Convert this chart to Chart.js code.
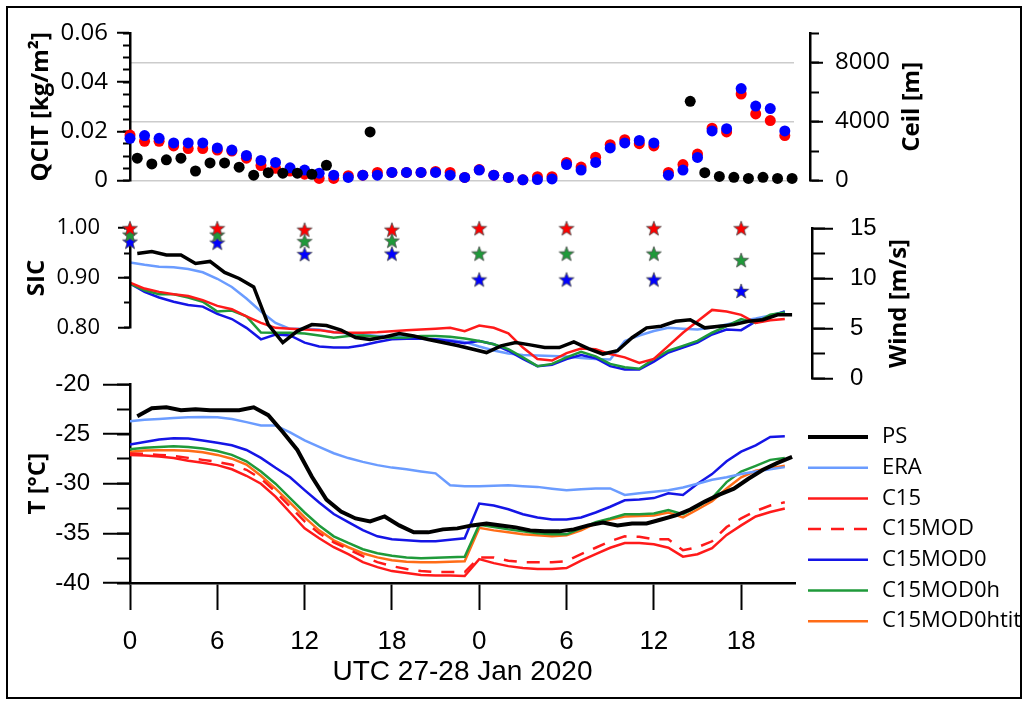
<!DOCTYPE html>
<html>
<head>
<meta charset="utf-8">
<script src="https://cdn.jsdelivr.net/npm/chart.js@4/dist/chart.umd.min.js"></script>
<style>
  body { margin: 0; background: #fff; }
  #frame { position: absolute; left: 6px; top: 6px; width: 1016px; height: 693px; box-sizing: border-box; border: 2.5px solid #000; }
  canvas { position: absolute; left: 0; }
</style>
</head>
<body>
<div id="frame"></div>
<canvas id="cQcit" width="1030" height="207" style="top:0px"></canvas>
<canvas id="cWind" width="1030" height="213" style="top:197px"></canvas>
<canvas id="cSic" width="1030" height="162" style="top:197px"></canvas>
<canvas id="cTemp" width="1030" height="344" style="top:357px"></canvas>
<script>
// hours after 27 Jan 00 UTC
const modelHours = [0, 1, 2, 3, 4, 5, 6, 7, 8, 9, 10, 11, 12, 13, 14, 15, 16, 17, 18, 19, 20, 21, 22, 23,
  24, 25, 26, 27, 28, 29, 30, 31, 32, 33, 34, 35, 36, 37, 38, 39, 40, 41, 42, 43, 44, 45];
const obsHours = [0.5, 1.5, 2.5, 3.5, 4.5, 5.5, 6.5, 7.5, 8.5, 9.5, 10.5, 11.5, 12.5, 13.5, 14.5, 15.5, 16.5, 17.5,
  18.5, 19.5, 20.5, 21.5, 22.5, 23.5, 24.5, 25.5, 26.5, 27.5, 28.5, 29.5, 30.5, 31.5, 32.5, 33.5, 34.5, 35.5,
  36.5, 37.5, 38.5, 39.5, 40.5, 41.5, 42.5, 43.5, 44.5, 45.5];
const sicHours = [0, 6, 12, 18, 24, 30, 36, 42];

// tick labels
const xTicks = [0, 6, 12, 18, 24, 30, 36, 42];
const qcitTicks = [0, 0.02, 0.04, 0.06];
const ceilTicks = [0, 4000, 8000];
const sicTicks = [0.8, 0.9, 1.0];
const windTicks = [0, 5, 10, 15];
const tTicks = [-40, -35, -30, -25, -20];

// top panel
const psCeil = [1520, 1130, 1410, 1520, 650, 1200, 1200, 910, 370, 540, 500, 500, 430, 1040, null, null, 3300,
  null, null, null, null, null, null, null, null, null, null, null, null, null, null, null, null, null, null, null, null, null,
  5370, 540, 280, 220, 150, 220, 150, 150];
const qcitC15 = [0.0185, 0.0160, 0.0160, 0.0141, 0.0130, 0.0130, 0.0124, 0.0120, 0.0091, 0.0061, 0.0050, 0.0039,
  0.0026, 0.0009, 0.0009, 0.0020, 0.0022, 0.0033, 0.0033, 0.0033, 0.0033, 0.0037, 0.0033, 0.0013, 0.0045, 0.0022,
  0.0013, 0.0003, 0.0016, 0.0016, 0.0074, 0.0055, 0.0095, 0.0146, 0.0166, 0.0150, 0.0141, 0.0033, 0.0065, 0.0108,
  0.0213, 0.0198, 0.0352, 0.0271, 0.0244, 0.0183];
const qcitC15MOD0 = [0.0172, 0.0183, 0.0172, 0.0153, 0.0153, 0.0153, 0.0133, 0.0124, 0.0102, 0.0082, 0.0074, 0.0052,
  0.0043, 0.0030, 0.0022, 0.0013, 0.0022, 0.0022, 0.0033, 0.0033, 0.0033, 0.0033, 0.0022, 0.0013, 0.0043, 0.0022,
  0.0013, 0.0003, 0.0004, 0.0007, 0.0065, 0.0043, 0.0074, 0.0133, 0.0153, 0.0163, 0.0153, 0.0022, 0.0043, 0.0094,
  0.0202, 0.0211, 0.0374, 0.0303, 0.0293, 0.0202];

// middle panel
const sicC15 = [1.00, 1.00, 0.997, 0.997, 1.00, 1.00, 1.00, 1.00];
const sicC15MOD0h = [0.987, 0.987, 0.974, 0.975, 0.949, 0.949, 0.949, 0.936];
const sicC15MOD0 = [0.973, 0.971, 0.948, 0.949, 0.897, 0.897, 0.897, 0.874];
const windPS = [12.5, 12.7, 12.35, 12.35, 11.5, 11.7, 10.6, 10.0, 9.15, 5.4, 3.6, 4.75, 5.4, 5.3, 4.85, 4.1, 3.9,
  4.15, 4.5, 4.25, 3.9, 3.6, 3.3, 2.95, 2.6, 3.27, 3.6, 3.37, 3.1, 3.1, 3.66, 3.0, 2.45, 2.78, 4.08, 5.07, 5.23,
  5.72, 5.88, 5.07, 5.23, 5.39, 5.72, 5.88, 6.37, 6.37];
const windERA = [11.6, 11.37, 11.18, 11.11, 10.95, 10.62, 9.97, 9.15, 8.0, 6.7, 5.56, 4.97, 4.97, 4.9, 4.64, 4.51,
  4.41, 4.25, 4.25, 4.18, 3.99, 3.92, 3.86, 3.66, 3.2, 2.8, 2.5, 2.35, 2.3, 2.25, 2.2, 2.05, 1.95, 1.9, 3.76, 4.3,
  4.75, 5.07, 4.97, 4.9, 5.1, 5.4, 5.75, 6.0, 6.3, 6.7];
const windC15 = [9.58, 8.99, 8.66, 8.43, 8.24, 7.84, 7.26, 6.93, 6.21, 5.56, 5.07, 4.97, 4.9, 4.84, 4.64, 4.58,
  4.58, 4.64, 4.74, 4.84, 4.9, 4.97, 5.07, 4.74, 5.29, 5.07, 4.51, 3.1, 1.96, 1.8, 2.55, 3.0, 2.94, 2.45, 2.12,
  1.57, 1.96, 3.27, 4.58, 5.72, 6.86, 6.7, 6.37, 5.56, 5.82, 5.95];
const windC15MOD0 = [9.48, 8.66, 8.1, 7.68, 7.35, 7.19, 6.47, 5.95, 5.07, 3.92, 4.41, 4.31, 3.59, 3.2, 3.1, 3.1,
  3.33, 3.66, 3.92, 3.99, 3.99, 3.92, 3.76, 3.53, 3.76, 3.43, 2.78, 1.96, 1.24, 1.37, 1.96, 2.35, 2.03, 1.24, 0.92,
  0.92, 1.7, 2.61, 3.1, 3.59, 4.41, 4.9, 4.84, 5.72, 6.2, 6.7];
const windC15MOD0h = [9.48, 8.82, 8.43, 8.43, 8.1, 7.68, 6.7, 6.8, 6.21, 4.6, 4.58, 4.58, 4.51, 4.31, 4.08, 4.25,
  4.31, 4.18, 4.08, 4.1, 4.25, 4.25, 4.18, 4.0, 3.76, 3.43, 2.94, 2.12, 1.24, 1.47, 2.12, 2.68, 2.22, 1.47, 1.14,
  0.98, 1.96, 2.78, 3.27, 3.76, 4.58, 5.23, 5.95, 5.56, 6.37, 6.6];

// bottom panel
const tPS = [-23.2, -22.4, -22.3, -22.6, -22.5, -22.6, -22.6, -22.6, -22.3, -23.1, -24.8, -26.6, -29.3, -31.6,
  -32.8, -33.5, -33.8, -33.3, -34.2, -34.9, -34.9, -34.6, -34.5, -34.2, -34.0, -34.2, -34.4, -34.7, -34.8, -34.8,
  -34.6, -34.2, -33.9, -34.2, -34.0, -34.0, -33.6, -33.2, -32.6, -31.8, -31.1, -30.5, -29.5, -28.6, -27.9, -27.3];
const tERA = [-23.7, -23.55, -23.48, -23.39, -23.32, -23.29, -23.32, -23.48, -23.8, -24.13, -24.13, -24.84, -25.64,
  -26.3, -26.93, -27.42, -27.8, -28.13, -28.38, -28.55, -28.77, -28.96, -30.16, -30.26, -30.26, -30.2, -30.16,
  -30.25, -30.32, -30.5, -30.65, -30.55, -30.48, -30.48, -31.13, -30.97, -30.8, -30.65, -30.39, -30.0, -29.6,
  -29.35, -29.03, -28.77, -28.55, -28.33];
const tC15 = [-27.1, -27.15, -27.26, -27.42, -27.68, -27.9, -28.13, -28.55, -29.2, -30.0, -31.3, -32.9, -34.5,
  -35.5, -36.4, -37.1, -37.9, -38.4, -38.8, -39.0, -39.2, -39.25, -39.25, -39.3, -37.6, -38.0, -38.3, -38.5, -38.6,
  -38.6, -38.5, -37.75, -37.1, -36.45, -35.97, -35.97, -36.1, -36.45, -37.35, -37.1, -36.5, -35.16, -34.2, -33.3,
  -32.85, -32.5];
const tC15MOD = [-26.95, -27.0, -27.1, -27.2, -27.4, -27.6, -27.8, -28.1, -28.6, -29.5, -30.8, -32.3, -33.8, -35.0,
  -35.9, -36.6, -37.3, -37.9, -38.3, -38.6, -38.8, -38.9, -38.9, -38.9, -37.42, -37.42, -37.75, -37.9, -37.9, -37.9,
  -37.8, -37.1, -36.45, -35.8, -35.3, -35.35, -35.6, -35.6, -36.7, -36.4, -35.8, -34.36, -33.5, -32.75, -32.2, -31.87];
const tC15MOD0 = [-26.06, -25.8, -25.55, -25.42, -25.45, -25.64, -25.87, -26.13, -26.6, -27.4, -28.4, -29.35,
  -30.65, -31.9, -33.05, -33.87, -34.68, -35.3, -35.6, -35.7, -35.8, -35.8, -35.65, -35.5, -32.0, -32.2, -32.58,
  -33.07, -33.4, -33.6, -33.6, -33.4, -32.9, -32.32, -31.67, -31.6, -31.45, -30.97, -31.13, -30.0, -29.03, -27.74,
  -26.78, -26.13, -25.3, -25.23];
const tC15MOD0h = [-26.52, -26.39, -26.3, -26.23, -26.3, -26.45, -26.7, -27.1, -27.74, -28.77, -30.0, -31.45,
  -32.9, -34.2, -35.3, -35.97, -36.6, -37.0, -37.26, -37.42, -37.5, -37.45, -37.4, -37.35, -34.13, -34.36, -34.6,
  -34.8, -35.0, -35.1, -35.1, -34.5, -33.87, -33.5, -33.07, -33.07, -33.0, -32.65, -33.07, -32.32, -31.45, -29.84,
  -28.77, -28.2, -27.6, -27.42];
const tC15MOD0htit = [-26.78, -26.65, -26.62, -26.62, -26.68, -26.84, -27.1, -27.48, -28.07, -29.2, -30.5, -31.9,
  -33.4, -34.7, -35.7, -36.4, -37.0, -37.42, -37.7, -37.85, -37.9, -37.9, -37.85, -37.8, -34.45, -34.7, -34.9,
  -35.1, -35.2, -35.3, -35.2, -34.7, -34.0, -33.6, -33.3, -33.25, -33.2, -32.9, -33.4, -32.6, -31.77, -30.48,
  -29.35, -28.7, -28.45, -28.2];

Chart.defaults.font.family = "'Liberation Sans', Arial, sans-serif";
Chart.defaults.color = "#000";
Chart.defaults.animation = false;
Chart.defaults.plugins.legend.display = false;
Chart.defaults.plugins.tooltip.enabled = false;

const calibri = "'Open Sans', sans-serif";
const titleFont = { family: calibri, size: 24, weight: "bold" };

function pts(xs, ys) {
  return xs.map((x, i) => ({ x: x, y: ys[i] }));
}

function xHidden() {
  return { type: "linear", min: 0, max: 45.7, display: false };
}

// labelled axis: long ticks, border, optional grid
function majorAxis(o) {
  return {
    position: o.pos, min: o.min, max: o.max, weight: o.weight,
    afterFit: (s) => { s.width = o.width; },
    afterBuildTicks: (s) => { s.ticks = o.ticksAt.map((v) => ({ value: v })); },
    border: { display: true, color: "#000", width: 2.5 },
    grid: { drawOnChartArea: !!o.grid, color: o.grid || "transparent", lineWidth: 1.5,
            tickLength: o.len, tickColor: "#000", tickWidth: 2 },
    ticks: { padding: o.pad, font: o.font, callback: o.fmt },
    title: o.title
      ? { display: true, text: o.title, font: titleFont, padding: { top: o.titlePad, bottom: 0 } }
      : { display: false },
  };
}

// zero width twin axis that only adds the short minor ticks
function minorAxis(pos, min, max, step, len, weight) {
  return {
    position: pos, min: min, max: max, weight: weight,
    afterFit: (s) => { s.width = 0; },
    border: { display: false },
    grid: { drawOnChartArea: false, tickLength: len, tickColor: "#000", tickWidth: 2 },
    ticks: { display: false, stepSize: step },
  };
}

// empty spacer between plot and the right axes
function gapAxis(w) {
  return {
    position: "right", weight: 0,
    afterFit: (s) => { s.width = w; },
    border: { display: false }, grid: { display: false }, ticks: { display: false },
  };
}

// right hand titles read bottom to top like the left ones
const rightTitle = {
  id: "rightTitle",
  afterDraw(chart, args, opts) {
    const s = chart.scales[opts.scale];
    const c = chart.ctx;
    c.save();
    c.translate(s.left + opts.dx, (s.top + s.bottom) / 2);
    c.rotate(-Math.PI / 2);
    c.font = "bold 24px 'Open Sans'";
    c.textAlign = "center";
    c.textBaseline = "middle";
    c.fillStyle = "#000";
    c.fillText(opts.text, 0, 0);
    c.restore();
  },
};

const lineLegend = {
  id: "lineLegend",
  afterDraw(chart, args, opts) {
    const c = chart.ctx;
    chart.data.datasets.forEach((d, i) => {
      const y = opts.y + i * opts.row;
      c.save();
      c.strokeStyle = d.borderColor;
      c.lineWidth = d.borderWidth;
      c.setLineDash(d.borderDash || []);
      c.beginPath();
      c.moveTo(opts.x, y);
      c.lineTo(opts.x + opts.len, y);
      c.stroke();
      c.setLineDash([]);
      c.fillStyle = "#000";
      c.font = "22px 'Open Sans'";
      c.textBaseline = "middle";
      c.fillText(d.label, opts.x + opts.len + opts.gap, y);
      c.restore();
    });
  },
};

function makeStar(fill) {
  const cv = document.createElement("canvas");
  cv.width = 18;
  cv.height = 18;
  const c = cv.getContext("2d");
  c.beginPath();
  for (let i = 0; i < 10; i++) {
    const r = i % 2 ? 3.2 : 7.8;
    const a = -Math.PI / 2 + (i * Math.PI) / 5;
    c.lineTo(9 + r * Math.cos(a), 9.7 + r * Math.sin(a));
  }
  c.closePath();
  c.fillStyle = fill;
  c.fill();
  c.strokeStyle = "#4a4a4a";
  c.lineWidth = 0.8;
  c.stroke();
  return cv;
}

const dot = (color) => ({ backgroundColor: color, borderWidth: 0, pointRadius: 5.5, clip: false });

// ---- QCIT / ceilometer
new Chart(document.getElementById("cQcit"), {
  type: "scatter",
  data: {
    datasets: [
      { label: "PS", data: pts(obsHours, psCeil), yAxisID: "yCeil", ...dot("#000") },
      { label: "C15MOD0", data: pts(modelHours, qcitC15MOD0), yAxisID: "y", ...dot("#0000ff") },
      { label: "C15", data: pts(modelHours, qcitC15), yAxisID: "y", ...dot("#ff0000") },
    ],
  },
  options: {
    responsive: false,
    layout: { padding: { top: 33, bottom: 20, left: 0, right: 0 } },
    scales: {
      x: xHidden(),
      y: majorAxis({ pos: "left", min: 0, max: 0.06, ticksAt: qcitTicks, width: 130, weight: 1, len: 13, pad: 9,
        font: { family: calibri, size: 24 }, fmt: (v) => (v === 0 ? "0" : v.toFixed(2)),
        title: "QCIT [kg/m²]", titlePad: 27 }),
      yMinor: minorAxis("left", 0, 0.06, 0.005, 7, 0),
      yGap: gapAxis(15),
      yCeilMinor: minorAxis("right", 0, 10000, 2000, 9, 1),
      yCeil: majorAxis({ pos: "right", min: 0, max: 10000, ticksAt: ceilTicks, width: 220, weight: 2, len: 13, pad: 12,
        font: { family: calibri, size: 24 }, fmt: (v) => String(v), grid: "#cccccc" }),
    },
    plugins: { rightTitle: { scale: "yCeil", text: "Ceil [m]", dx: 102 } },
  },
  plugins: [rightTitle],
});

// ---- wind lines
const wline = (label, xs, ys, color, width) => ({
  label: label, data: pts(xs, ys), borderColor: color, borderWidth: width,
  pointRadius: 0, fill: false, tension: 0, yAxisID: "yWind",
});
new Chart(document.getElementById("cWind"), {
  type: "line",
  data: {
    datasets: [
      wline("PS", obsHours, windPS, "#000", 3.5),
      wline("C15", modelHours, windC15, "#ff1a1a", 2.5),
      wline("C15MOD0h", modelHours, windC15MOD0h, "#1f9a3a", 2.5),
      wline("C15MOD0", modelHours, windC15MOD0, "#1515e6", 2.5),
      wline("ERA", modelHours, windERA, "#6b9cff", 2.5),
    ],
  },
  options: {
    responsive: false,
    layout: { padding: { top: 30, bottom: 30, left: 130, right: 0 } },
    scales: {
      x: xHidden(),
      yGap: gapAxis(17),
      yWindMinor: minorAxis("right", 0, 15, 2.5, 13, 1),
      yWind: majorAxis({ pos: "right", min: 0, max: 15, ticksAt: windTicks, width: 218, weight: 2, len: 21, pad: 17,
        font: { size: 24 }, fmt: (v) => String(v) }),
    },
    plugins: { rightTitle: { scale: "yWind", text: "Wind [m/s]", dx: 87 } },
  },
  plugins: [rightTitle],
});

// ---- sea ice concentration stars
const star = (label, ys, color) => ({
  label: label, data: pts(sicHours, ys), pointStyle: makeStar(color), clip: false, yAxisID: "y",
});
new Chart(document.getElementById("cSic"), {
  type: "scatter",
  data: {
    datasets: [
      star("C15", sicC15, "#ff0000"),
      star("C15MOD0h", sicC15MOD0h, "#1f9a3a"),
      star("C15MOD0", sicC15MOD0, "#0000ff"),
    ],
  },
  options: {
    responsive: false,
    layout: { padding: { top: 30, bottom: 30, left: 0, right: 235 } },
    scales: {
      x: xHidden(),
      y: majorAxis({ pos: "left", min: 0.8, max: 1.0, ticksAt: sicTicks, width: 130, weight: 1, len: 12, pad: 18,
        font: { family: calibri, size: 22 }, fmt: (v) => v.toFixed(2), title: "SIC", titlePad: 23 }),
      yMinor: minorAxis("left", 0.8, 1.0, 0.05, 6, 0),
    },
  },
});

// ---- temperature
const tline = (label, xs, ys, color, width, dash) => ({
  label: label, data: pts(xs, ys), borderColor: color, borderWidth: width, borderDash: dash,
  pointRadius: 0, fill: false, tension: 0, yAxisID: "y",
});
new Chart(document.getElementById("cTemp"), {
  type: "line",
  data: {
    datasets: [
      tline("PS", obsHours, tPS, "#000", 4),
      tline("ERA", modelHours, tERA, "#6b9cff", 2.5),
      tline("C15", modelHours, tC15, "#ff1a1a", 2.5),
      tline("C15MOD", modelHours, tC15MOD, "#ff1a1a", 2.5, [13, 10]),
      tline("C15MOD0", modelHours, tC15MOD0, "#1515e6", 2.5),
      tline("C15MOD0h", modelHours, tC15MOD0h, "#1f9a3a", 2.5),
      tline("C15MOD0htit", modelHours, tC15MOD0htit, "#ff6c17", 2.5),
    ],
  },
  options: {
    responsive: false,
    layout: { padding: { top: 20, bottom: 0, left: 0, right: 235 } },
    scales: {
      x: {
        type: "linear", min: 0, max: 45.7, position: "bottom",
        afterFit: (s) => { s.height = 118; },
        afterBuildTicks: (s) => { s.ticks = xTicks.map((v) => ({ value: v })); },
        border: { display: true, color: "#000", width: 2.5 },
        grid: { drawOnChartArea: false, tickLength: 27, tickColor: "#000", tickWidth: 2 },
        ticks: { autoSkip: false, maxRotation: 0, padding: 16, font: { size: 26 }, callback: (v) => v % 24 },
        title: { display: true, text: "UTC 27-28 Jan 2020", font: { size: 28 }, padding: { top: 0, bottom: 12 } },
      },
      y: majorAxis({ pos: "left", min: -40, max: -20, ticksAt: tTicks, width: 130, weight: 1, len: 27, pad: 13,
        font: { size: 24 }, fmt: (v) => String(v), title: "T [°C]", titlePad: 24 }),
      yMinor: minorAxis("left", -40, -20, 2.5, 13, 0),
    },
    plugins: { lineLegend: { x: 808, y: 80, row: 30.7, len: 60, gap: 14 } },
  },
  plugins: [lineLegend],
});
</script>
</body>
</html>
